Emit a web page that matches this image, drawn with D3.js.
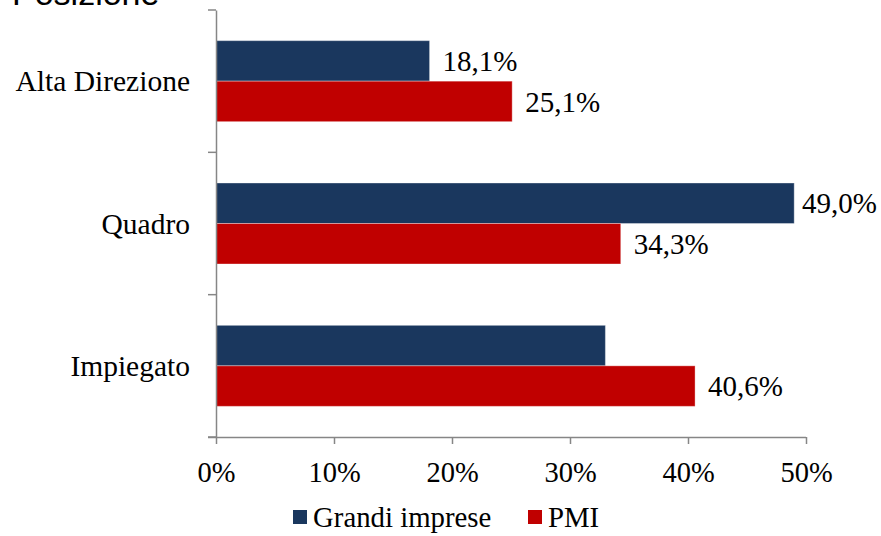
<!DOCTYPE html>
<html>
<head>
<meta charset="utf-8">
<script src="https://cdn.jsdelivr.net/npm/d3@7"></script>
<style>
  html, body { margin: 0; padding: 0; background: #fff; }
  svg { display: block; }
</style>
</head>
<body>
<script>
// Share of respondents by position, large companies vs SMEs
const categories = ["Alta Direzione", "Quadro", "Impiegato"];
const seriesNames = ["Grandi imprese", "PMI"];
const grandiImprese = [18.1, 49.0, 33.0];
const pmi = [25.1, 34.3, 40.6];
// Which bars carry a value label
const showLabelGrandi = [true, true, false];
const showLabelPmi = [true, true, true];
const tickValues = [0, 10, 20, 30, 40, 50];
const colors = ["#1a375e", "#c00000"];

const W = 881, H = 536;
const margin = { left: 216, right: 75, top: 10, bottom: 99 };
const serif = '"Liberation Serif"';
const fs = 29;

const svg = d3.select("body").append("svg")
  .attr("width", W).attr("height", H);

// Title, partly above the visible area
svg.append("text")
  .attr("x", 12).attr("y", 5)
  .style("font-family", '"Liberation Sans"')
  .attr("font-size", 34)
  .attr("fill", "#000")
  .text("Posizione");

const x = d3.scaleLinear().domain([0, 50]).range([margin.left, W - margin.right]);
const y = d3.scaleBand().domain(categories).range([margin.top, H - margin.bottom]).padding(0);
const yInner = d3.scaleBand().domain(seriesNames).range([0, y.bandwidth()])
  .paddingInner(0).paddingOuter(0.757);

const rows = categories.map((c, i) => ({
  cat: c,
  vals: [
    { s: seriesNames[0], v: grandiImprese[i], label: showLabelGrandi[i], color: colors[0] },
    { s: seriesNames[1], v: pmi[i], label: showLabelPmi[i], color: colors[1] }
  ]
}));

const fmt = v => d3.format(".1f")(v).replace(".", ",") + "%";

const groups = svg.selectAll("g.row").data(rows).join("g")
  .attr("class", "row")
  .attr("transform", d => `translate(0,${y(d.cat)})`);

groups.selectAll("rect").data(d => d.vals).join("rect")
  .attr("x", x(0))
  .attr("y", d => yInner(d.s))
  .attr("width", d => x(d.v) - x(0))
  .attr("height", yInner.bandwidth())
  .attr("fill", d => d.color)
  .attr("stroke", "rgba(255,255,255,0.35)")
  .attr("stroke-width", 1);

// Value labels sit just past the bar end, pulled back inside the frame if needed
groups.selectAll("text.val").data(d => d.vals.filter(v => v.label)).join("text")
  .attr("class", "val")
  .attr("y", d => yInner(d.s) + yInner.bandwidth() / 2)
  .attr("dy", "0.35em")
  .style("font-family", serif)
  .attr("font-size", fs)
  .attr("fill", "#000")
  .text(d => fmt(d.v))
  .attr("x", function (d) {
    const w = this.getComputedTextLength();
    return Math.min(x(d.v) + 13, W - 4 - w);
  });

// Axes
const axisColor = "#868686";
const yAxis = svg.append("g")
  .attr("transform", `translate(${x(0)},0)`)
  .call(d3.axisLeft(y).tickSize(0).tickFormat(""));
yAxis.select(".domain").attr("stroke", axisColor).attr("stroke-width", 1.5);

// Category separator ticks on the vertical axis
const sepVals = [margin.top, ...categories.slice(1).map(c => y(c)), H - margin.bottom];
svg.selectAll("line.sep").data(sepVals).join("line")
  .attr("class", "sep")
  .attr("x1", x(0) - 8).attr("x2", x(0))
  .attr("y1", d => d).attr("y2", d => d)
  .attr("stroke", axisColor).attr("stroke-width", 1.5);

svg.selectAll("text.cat").data(categories).join("text")
  .attr("class", "cat")
  .attr("x", 190)
  .attr("y", d => y(d) + y.bandwidth() / 2)
  .attr("dy", "0.35em")
  .attr("text-anchor", "end")
  .style("font-family", serif)
  .attr("font-size", 29.5)
  .attr("fill", "#000")
  .text(d => d);

const xAxis = svg.append("g")
  .attr("transform", `translate(0,${H - margin.bottom})`)
  .call(d3.axisBottom(x).tickValues(tickValues).tickSize(7).tickSizeOuter(0)
    .tickFormat(d => d + "%"));
xAxis.select(".domain").attr("stroke", axisColor).attr("stroke-width", 1.5)
  .attr("d", `M${x(0) - 8},0.5H${x(50)}`);
xAxis.selectAll(".tick line").attr("stroke", axisColor).attr("stroke-width", 1.5);
xAxis.selectAll(".tick text")
  .style("font-family", serif)
  .attr("font-size", 28.5)
  .attr("fill", "#000")
  .attr("y", 25)
  .attr("dy", "0.71em");

// Legend
const legend = svg.append("g").attr("transform", "translate(293,517)");
const legendItems = [
  { name: seriesNames[0], color: colors[0], x: 0 },
  { name: seriesNames[1], color: colors[1], x: 235 }
];
legendItems.forEach(it => {
  legend.append("rect")
    .attr("x", it.x).attr("y", -7).attr("width", 14).attr("height", 14)
    .attr("fill", it.color);
  legend.append("text")
    .attr("x", it.x + 20).attr("y", 0)
    .attr("dy", "0.35em")
    .style("font-family", serif)
    .attr("font-size", 28.8)
    .attr("fill", "#000")
    .text(it.name);
});
</script>
</body>
</html>
